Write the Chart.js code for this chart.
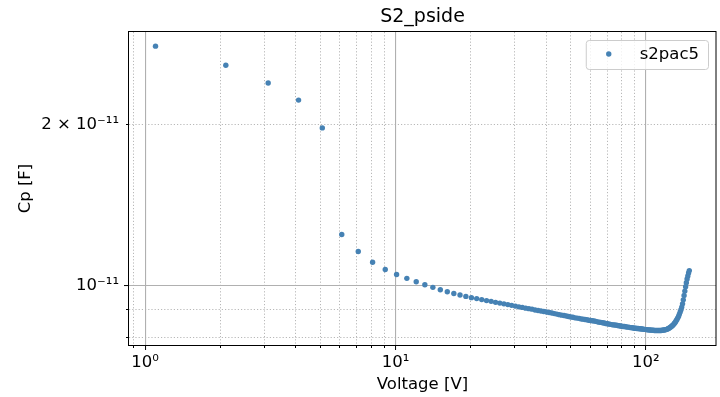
<!DOCTYPE html>
<html>
<head>
<meta charset="utf-8">
<script src="https://cdn.jsdelivr.net/npm/chart.js@4.4.0/dist/chart.umd.min.js"></script>
<style>
  html, body { margin: 0; padding: 0; background: #fff; }
</style>
</head>
<body>
<canvas id="grafica" width="720" height="397"></canvas>
<script>
// Datos (voltaje en V, capacidad en pF)
const serieNombre = 's2pac5'
const voltajes = [
  1.1, 2.1, 3.1, 4.1, 5.1, 6.1, 7.1, 8.1, 9.1, 10.1,
  11.1, 12.1, 13.1, 14.1, 15.1, 16.1, 17.1, 18.1, 19.1, 20.1,
  21.1, 22.1, 23.1, 24.1, 25.1, 26.1, 27.1, 28.1, 29.1, 30.1,
  31.1, 32.1, 33.1, 34.1, 35.1, 36.1, 37.1, 38.1, 39.1, 40.1,
  41.1, 42.1, 43.1, 44.1, 45.1, 46.1, 47.1, 48.1, 49.1, 50.1,
  51.1, 52.1, 53.1, 54.1, 55.1, 56.1, 57.1, 58.1, 59.1, 60.1,
  61.1, 62.1, 63.1, 64.1, 65.1, 66.1, 67.1, 68.1, 69.1, 70.1,
  71.1, 72.1, 73.1, 74.1, 75.1, 76.1, 77.1, 78.1, 79.1, 80.1,
  81.1, 82.1, 83.1, 84.1, 85.1, 86.1, 87.1, 88.1, 89.1, 90.1,
  91.1, 92.1, 93.1, 94.1, 95.1, 96.1, 97.1, 98.1, 99.1, 100.1,
  101.1, 102.1, 103.1, 104.1, 105.1, 106.1, 107.1, 108.1, 109.1, 110.1,
  111.1, 112.1, 113.1, 114.1, 115.1, 116.1, 117.1, 118.1, 119.1, 120.1,
  121.1, 122.1, 123.1, 124.1, 125.1, 126.1, 127.1, 128.1, 129.1, 130.1,
  131.1, 132.1, 133.1, 134.1, 135.1, 136.1, 137.1, 138.1, 139.1, 140.1,
  141.1, 142.1, 143.1, 144.1, 145.1, 146.1, 147.1, 148.1, 149.1
]
const capPF = [
  28.0, 25.8, 23.9, 22.2, 19.7, 12.45, 11.57, 11.05, 10.71, 10.48,
  10.31, 10.16, 10.03, 9.92, 9.82, 9.73, 9.66, 9.60, 9.54, 9.49,
  9.45, 9.41, 9.37, 9.34, 9.30, 9.27, 9.24, 9.21, 9.18, 9.15,
  9.12, 9.10, 9.07, 9.05, 9.03, 9.00, 8.98, 8.96, 8.94, 8.92,
  8.90, 8.88, 8.86, 8.84, 8.82, 8.80, 8.79, 8.77, 8.75, 8.73,
  8.72, 8.70, 8.69, 8.68, 8.66, 8.65, 8.64, 8.63, 8.61, 8.60,
  8.59, 8.58, 8.57, 8.55, 8.54, 8.53, 8.52, 8.51, 8.49, 8.48,
  8.47, 8.46, 8.45, 8.44, 8.44, 8.43, 8.42, 8.41, 8.40, 8.39,
  8.38, 8.38, 8.37, 8.36, 8.36, 8.35, 8.34, 8.34, 8.33, 8.32,
  8.32, 8.31, 8.31, 8.30, 8.30, 8.29, 8.29, 8.28, 8.28, 8.27,
  8.27, 8.26, 8.26, 8.26, 8.25, 8.25, 8.25, 8.24, 8.24, 8.24,
  8.24, 8.24, 8.24, 8.24, 8.24, 8.25, 8.25, 8.26, 8.26, 8.27,
  8.28, 8.29, 8.31, 8.33, 8.35, 8.37, 8.40, 8.43, 8.46, 8.50,
  8.54, 8.59, 8.64, 8.70, 8.76, 8.84, 8.92, 9.01, 9.11, 9.24,
  9.40, 9.58, 9.76, 9.95, 10.12, 10.28, 10.42, 10.55, 10.66
]

// Marcas de los ejes (los textos vacios son marcas menores)
const xMarcas = [0.9, 1, 2, 3, 4, 5, 6, 7, 8, 9, 10, 20, 30, 40, 50, 60, 70, 80, 90, 100]
const xEtiquetas = ['', '10⁰', '', '', '', '', '', '', '', '', '10¹', '', '', '', '', '', '', '', '', '10²']
const yMarcas = [8e-12, 9e-12, 1e-11, 2e-11]
const yEtiquetas = ['', '', '10⁻¹¹', '2 × 10⁻¹¹']

const fuente = '"DejaVu Sans", sans-serif'
const azul = '#4682b4'

const esMayor = (v) => Math.abs(Math.log10(v) - Math.round(Math.log10(v))) < 1e-6

const puntos = voltajes.map((v, i) => ({ x: v, y: capPF[i] * 1e-12 }))

// Marco, titulo y leyenda al estilo matplotlib
const decorado = {
  id: 'decorado',
  afterDatasetsDraw(chart) {
    const { ctx, chartArea: a } = chart
    ctx.save()
    ctx.strokeStyle = '#000'
    ctx.lineWidth = 1
    ctx.strokeRect(a.left - 0.5, a.top - 0.5, a.right - a.left + 0.5, a.bottom - a.top + 1)

    // titulo
    ctx.fillStyle = '#000'
    ctx.font = '19px ' + fuente
    ctx.textAlign = 'center'
    ctx.textBaseline = 'alphabetic'
    ctx.fillText('S2_pside', (a.left + a.right) / 2, 22)

    // leyenda
    const ds = chart.data.datasets[0]
    ctx.font = '16.5px ' + fuente
    const tw = ctx.measureText(ds.label).width
    const w = 54 + tw + 9, h = 29
    const x = a.right - 8 - w, y = a.top + 8
    ctx.beginPath()
    ctx.roundRect(x + 0.5, y + 0.5, w, h, 3)
    ctx.fillStyle = 'rgba(255,255,255,0.8)'
    ctx.fill()
    ctx.strokeStyle = '#cccccc'
    ctx.stroke()
    ctx.beginPath()
    ctx.arc(x + 23, y + 14, 2.7, 0, Math.PI * 2)
    ctx.fillStyle = ds.backgroundColor
    ctx.fill()
    ctx.fillStyle = '#000'
    ctx.textAlign = 'left'
    ctx.fillText(ds.label, x + 54, y + 19)
    ctx.restore()
  }
}

const ejeComun = (marcas, etiquetas) => ({
  type: 'logarithmic',
  bounds: 'data',
  afterBuildTicks: (s) => { s.ticks = marcas.map(v => ({ value: v })) },
  ticks: {
    autoSkip: false,
    maxRotation: 0,
    color: '#000',
    font: { family: fuente, size: 16.5 },
    callback: (v) => { const i = marcas.indexOf(v); return i >= 0 ? etiquetas[i] : '' }
  },
  grid: {
    color: '#b0b0b0',
    lineWidth: (c) => c.tick && esMayor(c.tick.value) ? 1.1 : 0.9,
    tickLength: 5,
    tickColor: '#000',
    tickWidth: 1
  },
  border: {
    display: false,
    dash: (c) => c.tick && !esMayor(c.tick.value) ? [1.2, 2] : []
  }
})

const ejeX = ejeComun(xMarcas, xEtiquetas)
ejeX.min = 0.862
ejeX.max = 190.6
ejeX.position = 'bottom'
ejeX.afterFit = (s) => { s.height = 52 }
ejeX.ticks.padding = 3
ejeX.grid.tickBorderDash = (c) => c.tick && !esMayor(c.tick.value) ? [3, 10] : []
ejeX.title = { display: true, text: 'Voltage [V]', color: '#000', font: { family: fuente, size: 16.5 }, padding: { top: 0, bottom: 2 } }

const ejeY = ejeComun(yMarcas, yEtiquetas)
ejeY.min = 7.74e-12
ejeY.max = 2.976e-11
ejeY.position = 'left'
ejeY.afterFit = (s) => { s.width = 129 }
ejeY.ticks.padding = 5
ejeY.grid.tickBorderDash = (c) => c.tick && !esMayor(c.tick.value) ? [0, 2, 3, 10] : []
ejeY.title = { display: true, text: 'Cp [F]', color: '#000', font: { family: fuente, size: 16.5 }, padding: { top: 16, bottom: 0 } }

const ctx = document.getElementById('grafica')
const grafica = new Chart(ctx, {
  type: 'scatter',
  data: {
    datasets: [{
      label: serieNombre,
      data: puntos,
      backgroundColor: azul,
      borderColor: azul,
      pointRadius: 2.7,
      pointBorderWidth: 0,
      showLine: false
    }]
  },
  options: {
    responsive: false,
    animation: false,
    layout: { padding: { top: 32, right: 3.5, bottom: 0, left: 0 } },
    scales: { x: ejeX, y: ejeY },
    plugins: {
      legend: { display: false },
      tooltip: { enabled: false },
      title: { display: false }
    }
  },
  plugins: [decorado]
})
</script>
</body>
</html>
